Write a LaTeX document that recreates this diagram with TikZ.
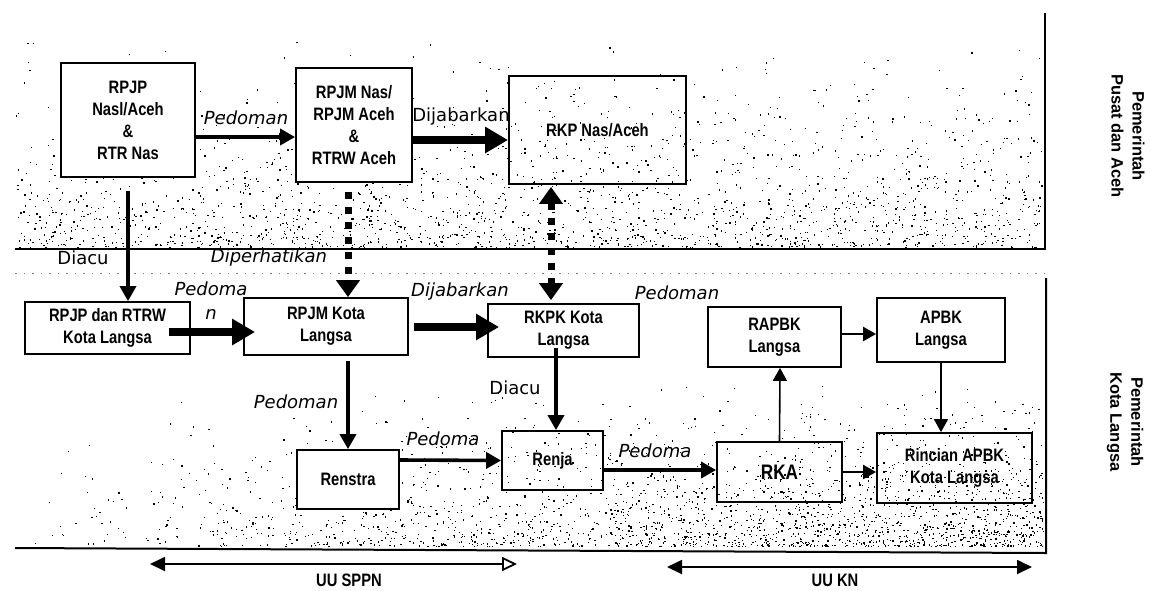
\documentclass[tikz,border=0pt]{standalone}
\usepackage{fontspec}
\usetikzlibrary{arrows.meta,calc}
\newfontfamily\boxfont[FakeStretch=0.82]{Liberation Sans}
\newfontfamily\lblfont{DejaVu Sans}
\newfontfamily\sidefont{Liberation Sans}
\tikzset{
  bx/.style={draw, line width=1.8pt, align=center, inner sep=0pt,
    font=\boxfont\bfseries\fontsize{18}{22}\selectfont},
  wbx/.style={bx, fill=white},
  lbl/.style={inner sep=0pt, align=center, font=\lblfont\fontsize{18}{24}\selectfont},
  ilbl/.style={inner sep=0pt, align=center, font=\lblfont\itshape\fontsize{18}{24}\selectfont},
  side/.style={inner sep=0pt, align=center, rotate=-90, font=\sidefont\bfseries\fontsize{16.5}{21}\selectfont},
  law/.style={inner sep=0pt, font=\boxfont\bfseries\fontsize{18}{22}\selectfont},
  ar/.style={line width=3.6pt, -{Triangle[length=15pt,width=16pt]}},
  thk/.style={line width=8pt, -{Triangle[length=23pt,width=25pt]}},
  dotar/.style={line width=7pt, dash pattern=on 7pt off 8pt, -{Triangle[length=17pt,width=23pt]}},
  dotdbl/.style={line width=7pt, dash pattern=on 7pt off 8pt, {Triangle[length=17pt,width=23pt]}-{Triangle[length=17pt,width=23pt]}},
  thinar/.style={line width=1.6pt, -{Triangle[length=13pt,width=14pt]}},
  frame/.style={line width=2pt},
}
\begin{document}
\begin{tikzpicture}[x=1pt,y=-1pt]
\useasboundingbox (0,0) rectangle (1151,590);
% stipple
\pgfmathsetseed{12345}
\foreach \i in {1,...,2100}{
  \pgfmathsetmacro\xx{16+1026*rnd}
  \pgfmathsetmacro\yy{247-215*rnd*rnd}
  \fill (\xx,\yy) rectangle ++(1.3,1.3);
}
\foreach \i in {1,...,2300}{
  \pgfmathsetmacro\xx{16+1027*sqrt(rnd)}
  \pgfmathsetmacro\yy{546-165*rnd*rnd}
  \fill (\xx,\yy) rectangle ++(1.3,1.3);
}
% region frames
\draw[frame] (15,249) -- (1045,249) -- (1045,13);
\draw[frame] (15,548) -- (1046,553) -- (1046,278);
\draw[gray, line width=1pt, dash pattern=on 1.5pt off 7pt] (15,273) -- (1046,273);

% boxes
\node[wbx, minimum width=134pt, minimum height=114pt] (n1) at (128,120) {RPJP\\Nasl/Aceh\\\&\\RTR Nas};
\node[wbx, minimum width=116pt, minimum height=114pt] (n2) at (354,125) {RPJM Nas/\\RPJM Aceh\\\&\\RTRW Aceh};
\node[bx, minimum width=177pt, minimum height=108pt] (n3) at (597.5,130) {RKP Nas/Aceh};
\node[wbx, minimum width=165pt, minimum height=52pt] (k1) at (107.5,328) {RPJP dan RTRW\\Kota Langsa};
\node[wbx, minimum width=164pt, minimum height=57pt] (k2) at (326,326.5) {RPJM Kota\\Langsa};
\node[wbx, minimum width=151pt, minimum height=53pt] (k3) at (563.5,330.5) {RKPK Kota\\Langsa};
\node[wbx, minimum width=133pt, minimum height=60pt] (k4) at (774.5,337) {RAPBK\\Langsa};
\node[wbx, minimum width=128pt, minimum height=64pt] (k5) at (941,330) {APBK\\Langsa};
\node[wbx, minimum width=102pt, minimum height=59pt] (k6) at (348,479.5) {Renstra};
\node[bx, minimum width=101pt, minimum height=59pt] (k7) at (552.5,460.5) {Renja};
\node[bx, minimum width=125pt, minimum height=60pt, font=\boxfont\bfseries\fontsize{21}{22}\selectfont] (k8) at (779.5,472) {RKA};
\node[bx, minimum width=155pt, minimum height=70pt] (k9) at (954.5,468) {Rincian APBK\\Kota Langsa};

% connectors
\draw[ar] ($(n1.east)+(0,17)$) -- ($(n2.west)+(0,12)$);
\draw[thk] ($(n2.east)+(0,15)$) -- ($(n3.west)+(0,10)$);
\draw[ar] ($(n1.south)+(0,13)$) -- ($(k1.north)+(20.5,0)$);
\draw[dotar] ($(n2.south)+(-6,9)$) -- ($(k2.north)+(22,0)$);
\draw[dotdbl] ($(n3.south)+(-46.5,2)$) -- ($(k3.north)+(-12.5,-3)$);
\draw[thk] ($(k1.east)+(-22,4)$) -- ($(k2.west)+(12,5.5)$);
\draw[thk] ($(k2.east)+(5,0.5)$) -- ($(k3.west)+(12,-3.5)$);
\draw[ar] ($(k2.south)+(22,5)$) -- (k6.north);
\draw[ar] ($(k6.east)+(0,-19.5)$) -- (k7.west);
\draw[ar] ($(k3.south)+(-7.5,-10)$) -- ($(k7.north)+(3.5,0)$);
\draw[ar] ($(k7.east)+(0,9.5)$) -- ($(k8.west)+(0,-2)$);
\draw[thinar] (k8.north) -- ($(k4.south)+(5.5,0)$);
\draw[thinar, line width=2.2pt] ($(k4.east)+(0,-3)$) -- ($(k5.west)+(0,4)$);
\draw[thinar] (k5.south) -- ($(k9.north)+(-13.5,0)$);
\draw[thinar, line width=2.2pt] (k8.east) -- ($(k9.west)+(0,4)$);

% connector labels
\node[ilbl] (l1) at (246,118) {Pedoman};
\node[lbl] (l2) at (461,117) {Dijabarkan};
\node[lbl] (l3) at (83,258) {Diacu};
\node[ilbl] (l4) at (269,258) {Diperhatikan};
\node[ilbl] (l5) at (211,301) {Pedoma\\n};
\node[ilbl] (l6) at (460,292) {Dijabarkan};
\node[ilbl] (l7) at (677,293) {Pedoman};
\node[lbl] (l8) at (515,388) {Diacu};
\node[ilbl] (l9) at (296,402) {Pedoman};
\node[ilbl] (l10) at (443,439) {Pedoma};
\node[ilbl] (l11) at (655,451) {Pedoma};

% law ranges
\coordinate (sp1) at (150,564);
\coordinate (sp2) at (517,564);
\coordinate (kn1) at (667,567);
\coordinate (kn2) at (1032,567);
\draw[line width=1.8pt, {Triangle[length=15pt,width=14pt]}-{Triangle[open,length=15pt,width=14pt,line width=1.8pt]}] (sp1) -- (sp2);
\draw[line width=1.8pt, {Triangle[length=15pt,width=14pt]}-{Triangle[length=15pt,width=14pt]}] (kn1) -- (kn2);
\node[law] (u1) at (349,580) {UU SPPN};
\node[law] (u2) at (835,580) {UU KN};

% side labels
\node[side] (s1) at (1128,136) {Pemerintah\\Pusat dan Aceh};
\node[side] (s2) at (1125,422) {Pemerintah\\Kota Langsa};
\end{tikzpicture}
\end{document}
